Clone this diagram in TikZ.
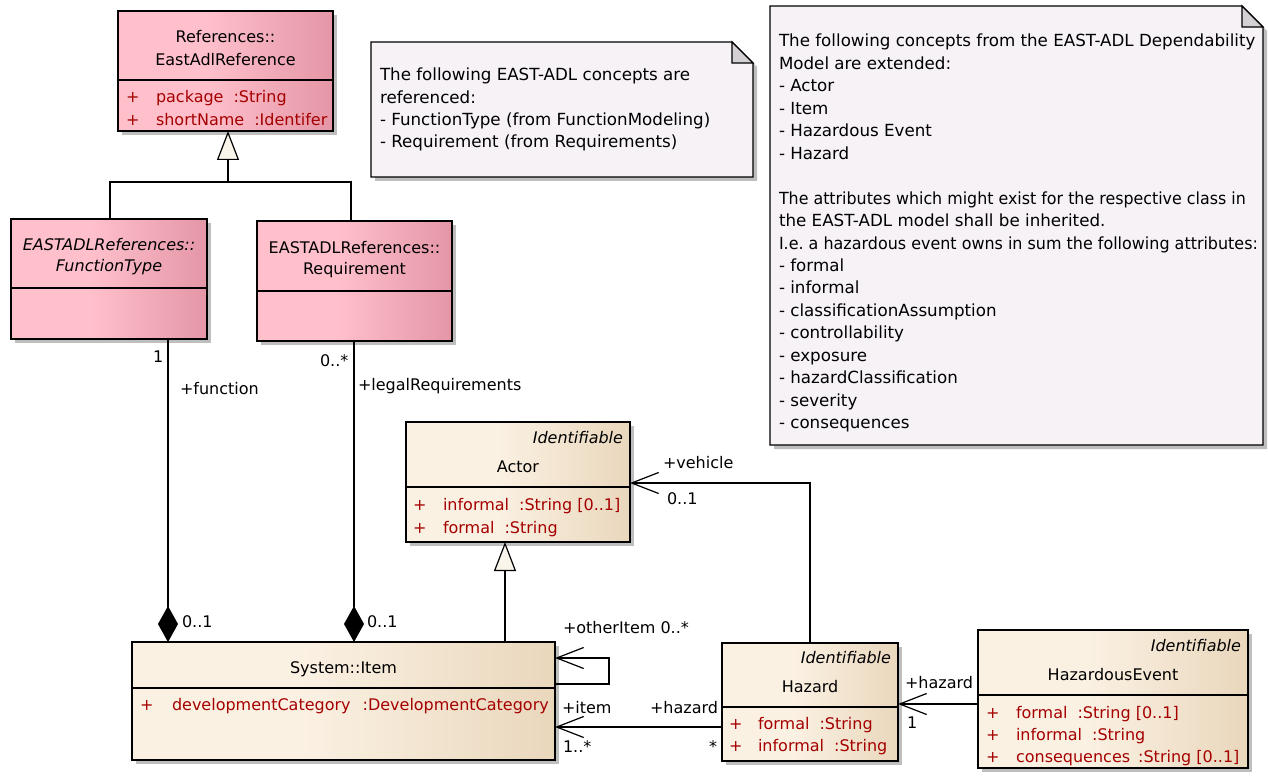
\documentclass[tikz,border=0pt]{standalone}
\usepackage{fontspec}
\usepackage{graphicx}
\setmainfont{DejaVu Sans}
\usetikzlibrary{shadows,arrows.meta,calc}
\frenchspacing
\definecolor{pinkL}{RGB}{255,192,204}
\definecolor{pinkR}{RGB}{228,150,166}
\definecolor{tanL}{RGB}{251,241,227}
\definecolor{tanR}{RGB}{233,215,188}
\definecolor{noteF}{RGB}{246,242,246}
\definecolor{foldF}{RGB}{212,208,212}
\definecolor{attrC}{RGB}{165,0,0}
\definecolor{triF}{RGB}{250,245,235}
\definecolor{shadowC}{RGB}{190,190,190}
\pgfdeclarehorizontalshading{pinkshade}{100bp}{color(0bp)=(pinkL); color(25bp)=(pinkL); color(45bp)=(pinkL); color(75bp)=(pinkR); color(100bp)=(pinkR)}
\pgfdeclarehorizontalshading{tanshade}{100bp}{color(0bp)=(tanL); color(25bp)=(tanL); color(45bp)=(tanL); color(75bp)=(tanR); color(100bp)=(tanR)}
\newcommand{\attrline}[2]{\makebox[30pt][l]{+}#1\hspace{10pt}:#2}
\tikzset{
  every node/.style={font=\fontsize{16}{22.4}\selectfont, inner sep=0pt, outer sep=0pt},
  myshadow/.style={drop shadow={shadow xshift=4pt, shadow yshift=-4pt, fill=shadowC, opacity=1}},
  classbox/.style={draw, line width=1.2pt, anchor=north west, myshadow, shade},
  pinkbox/.style={classbox, shading=pinkshade},
  tanbox/.style={classbox, shading=tanshade},
  notebox/.style={draw, line width=1.2pt, fill=noteF, myshadow},
  cname/.style={anchor=base},
  stereo/.style={anchor=base east, font=\fontsize{16}{22.4}\selectfont\itshape},
  attr/.style={anchor=base west, text=attrC},
  lbl/.style={anchor=base west},
  conn/.style={line width=1.2pt},
  gen/.style={conn, -{Triangle[length=29pt,width=22pt,fill=triF]}},
  comp/.style={conn, -{Diamond[length=36pt,width=20pt]}},
  nav/.style={conn, -{Straight Barb[length=27pt,width=21pt]}},
}
\begin{document}
\begin{tikzpicture}[x=1pt,y=-1pt]
\useasboundingbox (0,0) rectangle (1268,778);

% ---------- notes ----------
\path[notebox] (371,42) -- (732,42) -- (753,63) -- (753,177) -- (371,177) -- cycle;
\draw[line width=1.2pt, fill=foldF] (732,42) -- (732,63) -- (753,63) -- cycle;
\node[anchor=base west] (n1) at (380,81) {\parbox[t]{600pt}{\raggedright\fontsize{16.7}{22.3}\selectfont
The following EAST-ADL concepts are\\
referenced:\\
- FunctionType (from FunctionModeling)\\
- Requirement (from Requirements)}};

\path[notebox] (770,6) -- (1242,6) -- (1263,27) -- (1263,445) -- (770,445) -- cycle;
\draw[line width=1.2pt, fill=foldF] (1242,6) -- (1242,27) -- (1263,27) -- cycle;
\node[anchor=base west] (n2) at (779,47) {\parbox[t]{600pt}{\raggedright\fontsize{16.7}{22.45}\selectfont
The following concepts from the EAST-ADL Dependability\\
Model are extended:\\
- Actor\\
- Item\\
- Hazardous Event\\
- Hazard\\
~\\
\scalebox{0.95}[1]{The attributes which might exist for the respective class in}\\
the EAST-ADL model shall be inherited.\\
\scalebox{0.955}[1]{I.e. a hazardous event owns in sum the following attributes:}\\
- formal\\
- informal\\
- classificationAssumption\\
- controllability\\
- exposure\\
- hazardClassification\\
- severity\\
- consequences}};

% ---------- classes ----------
\node[pinkbox, minimum width=215pt, minimum height=120pt] (ear) at (118,11) {};
\draw[conn] ($(ear.north west)+(0,69)$) -- ($(ear.north east)+(0,69)$);
\node[cname] (earA) at (225.5,43) {References::};
\node[cname] (earB) at (225.5,66) {EastAdlReference};
\node[attr] (earC) at (126,103) {\attrline{package}{String}};
\node[attr] (earD) at (126,126) {\attrline{shortName}{Identifer}};

\node[pinkbox, minimum width=196pt, minimum height=120pt] (ft) at (11,219) {};
\draw[conn] ($(ft.north west)+(0,69)$) -- ($(ft.north east)+(0,69)$);
\node[cname, font=\fontsize{16}{22.4}\selectfont\itshape] (ftA) at (109,250) {EASTADLReferences::};
\node[cname, font=\fontsize{16}{22.4}\selectfont\itshape] (ftB) at (109,271) {FunctionType};

\node[pinkbox, minimum width=195pt, minimum height=120pt] (req) at (257,221) {};
\draw[conn] ($(req.north west)+(0,70)$) -- ($(req.north east)+(0,70)$);
\node[cname] (reqA) at (354.5,253) {EASTADLReferences::};
\node[cname] (reqB) at (354.5,274) {Requirement};

\node[tanbox, minimum width=224pt, minimum height=120pt] (actor) at (406,422) {};
\draw[conn] ($(actor.north west)+(0,65)$) -- ($(actor.north east)+(0,65)$);
\node[stereo] (actS) at (623,443) {Identifiable};
\node[cname] (actA) at (518,472) {Actor};
\node[attr] (actB) at (413,510) {\attrline{informal}{String [0..1]}};
\node[attr] (actC) at (413,533) {\attrline{formal}{String}};

\node[tanbox, minimum width=423pt, minimum height=118pt] (item) at (132,642) {};
\draw[conn] ($(item.north west)+(0,46)$) -- ($(item.north east)+(0,46)$);
\node[cname] (itA) at (343.5,673) {System::Item};
\node[attr] (itB) at (140,710) {\makebox[32pt][l]{+}developmentCategory\hspace{12pt}:DevelopmentCategory};

\node[tanbox, minimum width=176pt, minimum height=118pt] (hazard) at (722,643) {};
\draw[conn] ($(hazard.north west)+(0,64)$) -- ($(hazard.north east)+(0,64)$);
\node[stereo] (hzS) at (891,663) {Identifiable};
\node[cname] (hzA) at (810,692) {Hazard};
\node[attr] (hzB) at (729,729) {\makebox[29pt][l]{+}formal\hspace{10pt}:String};
\node[attr] (hzC) at (729,751) {\makebox[29pt][l]{+}informal\hspace{10pt}:String};

\node[tanbox, minimum width=270pt, minimum height=138pt] (he) at (978,630) {};
\draw[conn] ($(he.north west)+(0,65)$) -- ($(he.north east)+(0,65)$);
\node[stereo] (heS) at (1241,651) {Identifiable};
\node[cname] (heA) at (1113,680) {HazardousEvent};
\node[attr] (heB) at (986,718) {\attrline{formal}{String [0..1]}};
\node[attr] (heC) at (986,740) {\attrline{informal}{String}};
\node[attr] (heD) at (986,762) {\makebox[30pt][l]{+}consequences\hspace{8pt}:String [0..1]};

% ---------- connectors ----------
\coordinate (gj) at (228,182);
\coordinate (gl) at (110,182);
\coordinate (gr) at (351,182);
\draw[conn] (ft.north -| gl) -- (gl) -- (gr) -- (req.north -| gr);
\draw[gen] (gj) -- (ear.south -| gj);

\coordinate (fx) at (168,0);
\coordinate (rx) at (354,0);
\draw[comp] (ft.south -| fx) -- (item.north -| fx);
\draw[comp] (req.south -| rx) -- (item.north -| rx);

\coordinate (ax) at (505,0);
\draw[gen] (item.north -| ax) -- (actor.south -| ax);

\coordinate (hx) at (810,483);
\draw[nav] (hazard.north -| hx) -- (hx) -- (actor.east |- hx);

\coordinate (hy) at (0,704);
\draw[nav] (he.west |- hy) -- (hazard.east |- hy);

\coordinate (iy) at (0,727);
\draw[nav] (hazard.west |- iy) -- (item.east |- iy);

\coordinate (l1) at (609,658);
\coordinate (l2) at (609,684);
\draw[nav] (item.east |- l2) -- (l2) -- (l1) -- (item.east |- l1);

% ---------- labels ----------
\node[lbl] (m1) at (153,362) {1};
\node[lbl] (r1) at (180,394) {+function};
\node[lbl] (m2) at (320,366) {0..*};
\node[lbl] (r2) at (358,390) {+legalRequirements};
\node[lbl] (m3) at (182,627) {0..1};
\node[lbl] (m4) at (367,627) {0..1};
\node[lbl] (r3) at (663,468) {+vehicle};
\node[lbl] (m5) at (667,504) {0..1};
\node[lbl] (r4) at (563,633) {+otherItem 0..*};
\node[lbl] (r5) at (562,713) {+item};
\node[lbl] (m6) at (563,752) {1..*};
\node[lbl] (r6) at (650,713) {+hazard};
\node[lbl] (m7) at (709,752) {*};
\node[lbl] (r7) at (905,688) {+hazard};
\node[lbl] (m8) at (907,728) {1};
\end{tikzpicture}
\end{document}
